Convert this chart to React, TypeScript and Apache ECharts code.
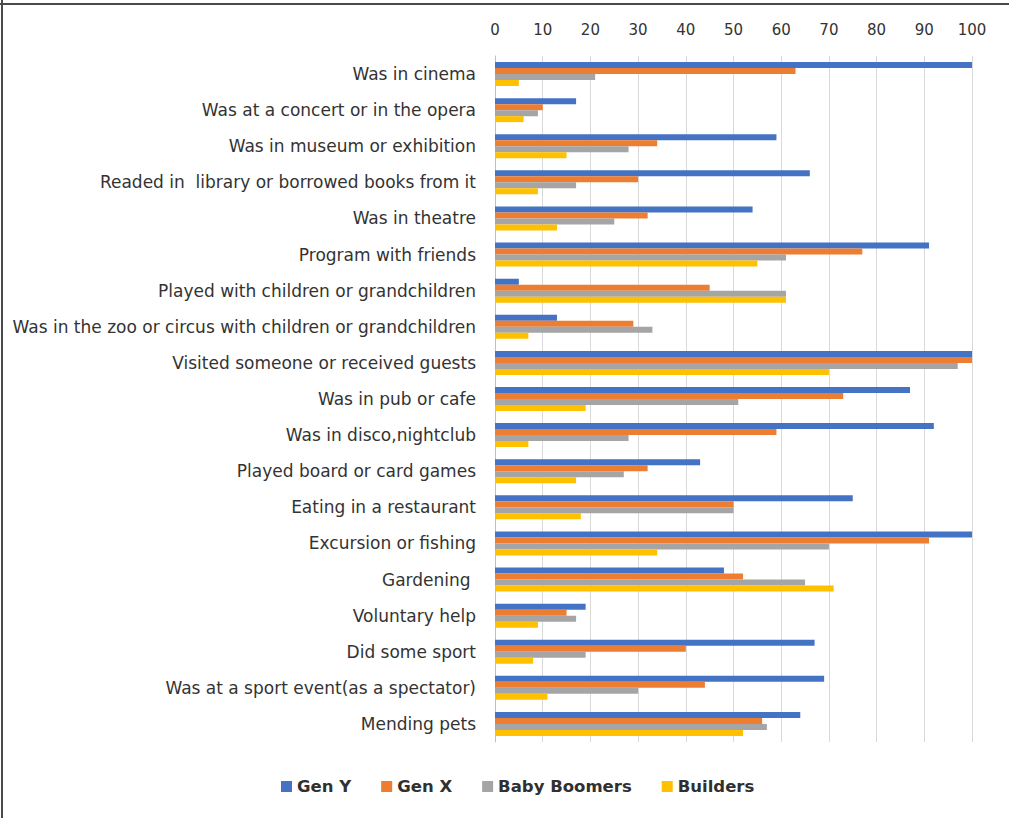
import React, { useEffect, useRef } from "react";
import * as echarts from "echarts";

const categories = [
  "Was in cinema",
  "Was at a concert or in the opera",
  "Was in museum or exhibition",
  "Readed in  library or borrowed books from it",
  "Was in theatre",
  "Program with friends",
  "Played with children or grandchildren",
  "Was in the zoo or circus with children or grandchildren",
  "Visited someone or received guests",
  "Was in pub or cafe",
  "Was in disco,nightclub",
  "Played board or card games",
  "Eating in a restaurant",
  "Excursion or fishing",
  "Gardening ",
  "Voluntary help",
  "Did some sport",
  "Was at a sport event(as a spectator)",
  "Mending pets",
];

const genY = [100, 17, 59, 66, 54, 91, 5, 13, 100, 87, 92, 43, 75, 100, 48, 19, 67, 69, 64];
const genX = [63, 10, 34, 30, 32, 77, 45, 29, 100, 73, 59, 32, 50, 91, 52, 15, 40, 44, 56];
const babyBoomers = [21, 9, 28, 17, 25, 61, 61, 33, 97, 51, 28, 27, 50, 70, 65, 17, 19, 30, 57];
const builders = [5, 6, 15, 9, 13, 55, 61, 7, 70, 19, 7, 17, 18, 34, 71, 9, 8, 11, 52];

const seriesNames = ["Gen Y", "Gen X", "Baby Boomers", "Builders"];
const seriesColors = ["#4472C4", "#ED7D31", "#A5A5A5", "#FFC000"];
const xTicks = [0, 100, 10];

export default function App() {
  const ref = useRef<HTMLDivElement>(null);
  useEffect(() => {
    if (!ref.current) return;
    const chart = echarts.init(ref.current, null, { renderer: "svg" });
    const data = [genY, genX, babyBoomers, builders];
    chart.setOption({
      animation: false,
      backgroundColor: "#ffffff",
      textStyle: { fontFamily: "DejaVu Sans" },
      graphic: [
        { type: "line", shape: { x1: 2, y1: 0, x2: 2, y2: 818 }, style: { stroke: "#4a4a4a", lineWidth: 2 } },
        { type: "line", shape: { x1: 0, y1: 4, x2: 1009, y2: 4 }, style: { stroke: "#4a4a4a", lineWidth: 2 } },
      ],
      grid: { left: 495, right: 37, top: 56, bottom: 76, containLabel: false },
      legend: {
        bottom: 18,
        left: 276,
        itemWidth: 11,
        itemHeight: 11,
        itemGap: 30,
        icon: "rect",
        textStyle: { fontSize: 16.5, fontWeight: "bold", color: "#303030", fontFamily: "DejaVu Sans" },
        data: seriesNames,
      },
      xAxis: {
        type: "value",
        position: "top",
        min: xTicks[0],
        max: xTicks[1],
        interval: xTicks[2],
        axisLine: { show: false },
        axisTick: { show: false },
        axisLabel: { color: "#333333", fontSize: 15, margin: 19, fontFamily: "DejaVu Sans" },
        splitLine: { show: true, lineStyle: { color: "#d9d9d9", width: 1 } },
      },
      yAxis: {
        type: "category",
        inverse: true,
        data: categories,
        axisLine: { show: true, lineStyle: { color: "#bfbfbf" } },
        axisTick: { show: false },
        axisLabel: { color: "#333333", fontSize: 17, margin: 19, fontFamily: "DejaVu Sans" },
      },
      series: seriesNames.map((name, i) => ({
        name,
        type: "bar",
        data: data[i],
        barWidth: 6,
        barGap: "0%",
        itemStyle: { color: seriesColors[i] },
      })),
    });
    return () => chart.dispose();
  }, []);
  return (
    <div
      ref={ref}
      style={{ position: "fixed", left: 0, top: 0, width: 1009, height: 818, background: "#fff" }}
    />
  );
}
